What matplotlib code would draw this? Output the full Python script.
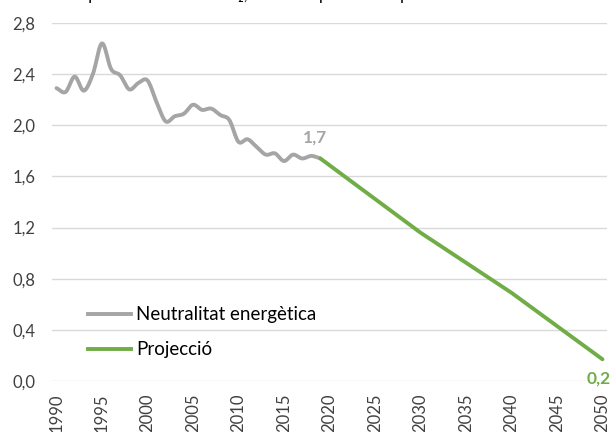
import numpy as np
import matplotlib
matplotlib.use('Agg')
import matplotlib.pyplot as plt
from matplotlib.lines import Line2D

plt.rcParams['font.family'] = ['Lato', 'DejaVu Sans']

# dades
years_hist = list(range(1990, 2020))
hist = [2.29, 2.26, 2.38, 2.27, 2.40, 2.64, 2.44, 2.39, 2.28, 2.33,
        2.35, 2.18, 2.03, 2.07, 2.09, 2.16, 2.12, 2.13, 2.08, 2.04,
        1.87, 1.89, 1.83, 1.77, 1.78, 1.72, 1.77, 1.74, 1.76, 1.74]
years_proj = [2019, 2030, 2040, 2050]
proj = [1.74, 1.16, 0.69, 0.17]
ytick_vals = [0.0, 0.4, 0.8, 1.2, 1.6, 2.0, 2.4, 2.8]
xtick_years = list(range(1990, 2051, 5))
label_hist = 'Neutralitat energètica'
label_proj = 'Projecció'
title = 'Ratio per emissions de CO₂, en tones per cada tep'

GRAY = '#A5A5A5'
GREEN = '#70AD47'


def smooth(x, y, n=12):
    # catmull-rom, like excel's smoothed line
    x = np.asarray(x, float); y = np.asarray(y, float)
    px = np.concatenate([[2*x[0]-x[1]], x, [2*x[-1]-x[-2]]])
    py = np.concatenate([[2*y[0]-y[1]], y, [2*y[-1]-y[-2]]])
    xs, ys = [], []
    t = np.linspace(0, 1, n, endpoint=False)
    for i in range(1, len(px)-2):
        for arr, out in ((px, xs), (py, ys)):
            p0, p1, p2, p3 = arr[i-1], arr[i], arr[i+1], arr[i+2]
            out.extend(0.5*((2*p1) + (-p0+p2)*t + (2*p0-5*p1+4*p2-p3)*t**2
                            + (-p0+3*p1-3*p2+p3)*t**3))
    xs.append(x[-1]); ys.append(y[-1])
    return np.array(xs), np.array(ys)


fig = plt.figure(figsize=(6.11, 4.32), dpi=100)
ax = fig.add_axes([0.085, 0.118, 0.9085, 0.829])

sx, sy = smooth(years_hist, hist)
ax.plot(sx, sy, color=GRAY, lw=2.8, solid_capstyle='round')
ax.plot(years_proj, proj, color=GREEN, lw=2.8, solid_capstyle='round')

ax.annotate('1,7', (years_hist[-1], hist[-1]), xytext=(-4, 9), textcoords='offset points',
            ha='center', va='bottom', color=GRAY, fontsize=12.5, fontweight='bold')
ax.annotate('0,2', (years_proj[-1], proj[-1]), xytext=(-3, -8), textcoords='offset points',
            ha='center', va='top', color=GREEN, fontsize=12.5, fontweight='bold')

ax.set_xlim(1989.5, 2050.5)
ax.set_ylim(0, 2.8)
ax.set_yticks(ytick_vals)
ax.set_yticklabels([('%.1f' % v).replace('.', ',') for v in ytick_vals], color='#404040', fontsize=12)
ax.set_xticks(xtick_years)
ax.set_xticklabels([str(y) for y in xtick_years], rotation=90, color='#404040', fontsize=12)
ax.tick_params(axis='y', length=0, pad=12)
ax.tick_params(axis='x', length=0, pad=9)
ax.grid(axis='y', color='#D9D9D9', lw=1)
ax.set_axisbelow(True)
for s in ax.spines.values():
    s.set_visible(False)

handles = [Line2D([], [], color=GRAY, lw=2.8), Line2D([], [], color=GREEN, lw=2.8)]
ax.legend(handles, [label_hist, label_proj], loc='lower left', bbox_to_anchor=(0.052, 0.042),
          frameon=False, fontsize=13.5, handlelength=2.3, handletextpad=0.25, labelspacing=0.98,
          labelcolor='black', borderaxespad=0)

# titol, tallat a dalt
fig.text(46/611, 1.0, title, ha='left', va='baseline', fontsize=12)

fig.savefig('out.png', dpi=100)
